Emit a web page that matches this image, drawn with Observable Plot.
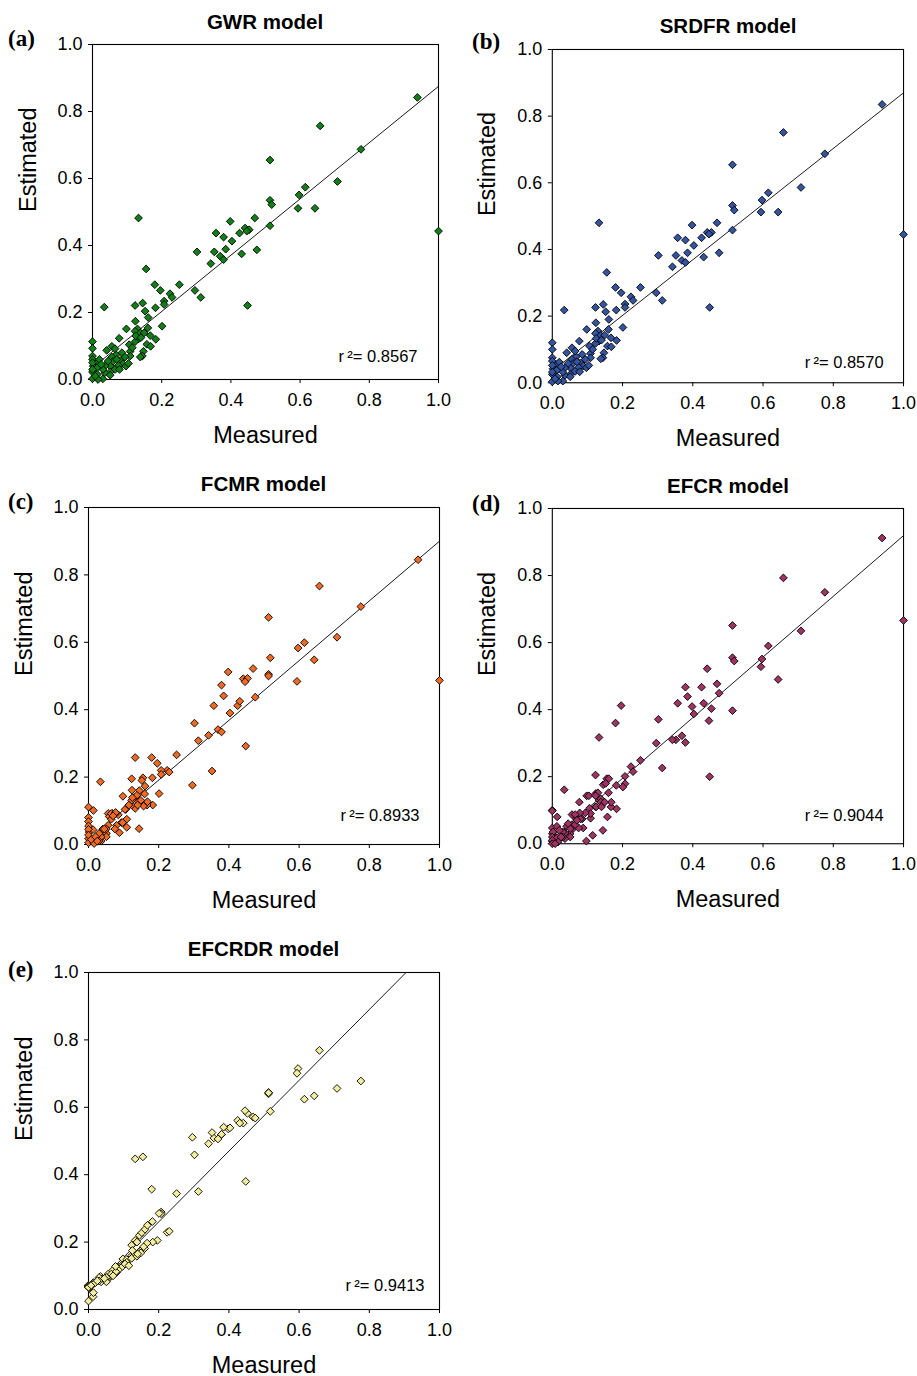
<!DOCTYPE html>
<html><head><meta charset="utf-8">
<script src="https://cdn.jsdelivr.net/npm/d3@7"></script>
<script src="https://cdn.jsdelivr.net/npm/@observablehq/plot@0.6"></script>
<style>
body{margin:0;background:#fff;}
#fig{position:relative;width:917px;height:1376px;overflow:hidden;background:#fff;font-family:"Liberation Sans",Arial,sans-serif;}
.title{position:absolute;font-weight:bold;font-size:20.5px;line-height:20.5px;white-space:nowrap;transform:translateX(-50%);color:#000;}
.plabel{position:absolute;font-family:"Liberation Serif","Times New Roman",serif;font-weight:bold;font-size:23px;line-height:23px;color:#000;white-space:nowrap;}
.panel{position:absolute;}
</style></head><body><div id="fig"></div><script>
// ---- data ----
const models = ["GWR model", "SRDFR model", "FCMR model", "EFCR model", "EFCRDR model"];
const panelLetters = ["(a)", "(b)", "(c)", "(d)", "(e)"];
const rSquared = ["0.8567", "0.8570", "0.8933", "0.9044", "0.9413"];
const fitSlope = [0.84, 0.835, 0.886, 0.905, 1.05];
const fitIntercept = [0.035, 0.035, 0.014, 0.014, 0.05];
const axisTicks = [0, 0.2, 0.4, 0.6, 0.8, 1.0];
const xLabel = "Measured";
const yLabel = "Estimated";

const measured = [
0.939,0.658,0.776,0.513,0.708,0.615,0.597,0.513,0.518,0.594,
0.643,0.133,0.469,0.398,1.000,0.357,0.425,0.441,0.453,0.446,
0.379,0.403,0.513,0.385,0.475,0.302,0.352,0.369,0.379,0.431,
0.342,0.155,0.180,0.251,0.196,0.296,0.224,0.230,0.313,0.207,
0.207,0.448,0.034,0.123,0.145,0.182,0.152,0.161,0.124,0.201,
0.098,0.160,0.183,0.167,0.133,0.123,0.157,0.168,0.106,0.056,
0.000,0.000,0.041,0.147,0.109,0.144,0.109,0.138,0.085,0.068,
0.056,0.094,0.080,0.059,0.088,0.075,0.051,0.065,0.078,0.051,
0.036,0.036,0.030,0.030,0.051,0.014,0.000,0.000,0.002,0.000,
0.000,0.013,0.014,0.016,0.097,0.104,0.065,0.130,0.123,0.138,
0.149,0.077,0.000,0.000,0.008,0.020,0.025,0.045,0.070,0.115,
0.125,0.140];

const estGWR = [
.842,.757,.687,.655,.591,.574,.551,.535,.522,.511,
.511,.482,.482,.472,.443,.437,.437,.452,.447,.443,
.425,.413,.459,.389,.387,.381,.381,.368,.358,.375,
.346,.330,.283,.283,.266,.266,.256,.245,.245,.234,
.224,.221,.216,.221,.228,.214,.204,.185,.174,.159,
.151,.154,.120,.131,.121,.113,.105,.099,.104,.099,
.113,.093,.087,.084,.084,.070,.070,.067,.080,.074,
.067,.067,.057,.054,.047,.042,.040,.030,.030,.022,
.020,.040,.030,.002,.013,.052,.070,.060,.040,.022,
.002,.035,.015,.000,.040,.048,.092,.151,.144,.139,
.139,.123,.050,.030,.010,.060,.045,.055,.060,.095,
.130,.125];

const estSRDFR = [
.835,.751,.687,.654,.586,.570,.548,.532,.518,.512,
.512,.480,.480,.473,.445,.435,.435,.451,.451,.446,
.428,.412,.458,.390,.390,.382,.382,.367,.361,.377,
.348,.331,.286,.286,.270,.270,.258,.247,.247,.236,
.226,.226,.218,.226,.235,.218,.213,.190,.180,.166,
.160,.160,.127,.135,.125,.118,.110,.108,.110,.105,
.120,.100,.090,.090,.088,.075,.075,.072,.085,.078,
.070,.070,.060,.058,.050,.046,.045,.034,.033,.025,
.022,.045,.032,.005,.018,.055,.075,.065,.042,.025,
.003,.038,.018,.005,.045,.052,.095,.155,.148,.142,
.143,.125,.052,.032,.012,.062,.048,.058,.063,.100,
.133,.128];

const estFCMR = [
.845,.767,.706,.674,.615,.599,.583,.505,.554,.484,
.548,.258,.522,.512,.487,.412,.412,.492,.493,.483,
.473,.390,.500,.441,.437,.360,.218,.341,.334,.425,
.324,.198,.258,.266,.241,.176,.220,.215,.308,.220,
.208,.292,.186,.195,.160,.198,.190,.173,.161,.151,
.143,.150,.117,.117,.107,.117,.114,.127,.104,.092,
.111,.080,.046,.127,.075,.047,.051,.131,.088,.092,
.057,.065,.057,.083,.035,.046,.033,.075,.092,.023,
.010,.023,.033,.010,.046,.101,.068,.055,.037,.017,
.005,.044,.008,.003,.065,.104,.092,.139,.131,.146,
.131,.095,.045,.028,.015,.023,.010,.046,.085,.117,
.139,.117];

const estEFCR = [
.912,.793,.750,.651,.635,.590,.551,.555,.545,.528,
.490,.317,.477,.409,.666,.419,.467,.522,.403,.367,
.467,.387,.397,.439,.449,.371,.310,.322,.302,.419,
.310,.194,.360,.249,.412,.300,.230,.215,.226,.201,
.179,.200,.161,.205,.176,.174,.180,.194,.150,.169,
.143,.152,.104,.110,.130,.110,.080,.124,.106,.087,
.100,.098,.052,.124,.076,.040,.090,.134,.074,.074,
.057,.092,.074,.045,.047,.047,.030,.057,.092,.020,
.015,.032,.035,.020,.045,.080,.047,.030,.035,.020,
.007,.052,.018,.005,.008,.143,.087,.152,.143,.124,
.124,.124,.010,.000,.000,.040,.020,.060,.070,.025,
.110,.110];

const estEFCRDR = [
null,.769,.678,.644,.656,.624,.715,.640,.588,.701,
.634,.447,.571,.536,null,.509,.561,.553,.582,.590,
.519,.539,.643,.541,.568,.459,.525,.506,.520,.553,
.492,.453,.357,.344,.205,.511,.229,.232,.350,.289,
.284,.380,.098,.191,.220,.261,.228,.238,.158,.285,
.150,.181,.200,.197,.205,.160,.186,.250,.140,.100,
.070,.068,.090,.174,.148,.170,.140,.200,.125,.115,
.105,.130,.110,.095,.120,.108,.085,.100,.112,.095,
.090,.082,.095,.085,.082,.080,.072,.065,.066,.025,
.070,.038,.050,.078,.128,.135,.105,.160,.152,.158,
.168,.128,.068,.066,.072,.080,.085,.092,.100,.130,
.175,.165];

const estimates = [estGWR, estSRDFR, estFCMR, estEFCR, estEFCRDR];
const fillColors = ["#108016", "#3354a0", "#f26a22", "#9e3364", "#f4ee9c"];

// ---- layout (pixel geometry of each panel frame) ----
const layout = [
  {left: 92,  top: 44,  w: 346, h: 335, r2dx: -21, r2dy: -18, titleTop: 11.6,  labelTop: 27.2},
  {left: 552, top: 49,  w: 352, h: 334, r2dx: -20, r2dy: -15, titleTop: 15.9,  labelTop: 30.2},
  {left: 88,  top: 507, w: 351, h: 337, r2dx: -20, r2dy: -24, titleTop: 474.3, labelTop: 489.7},
  {left: 552, top: 508, w: 352, h: 336, r2dx: -20, r2dy: -23, titleTop: 475.9, labelTop: 492.2},
  {left: 88,  top: 972, w: 351, h: 337, r2dx: -15, r2dy: -19, titleTop: 938.6, labelTop: 958.2}
];
const ML = 90, MT = 6, MR = 14, MB = 72;

const fig = document.getElementById("fig");
const fmt = d3.format(".1f");

models.forEach((name, k) => {
  const L = layout[k];
  const pts = measured.map((m, i) => ({m, e: estimates[k][i]}));
  const slope = fitSlope[k], icpt = fitIntercept[k];
  const chart = Plot.plot({
    width: ML + L.w + MR,
    height: MT + L.h + MB,
    marginLeft: ML, marginTop: MT, marginRight: MR, marginBottom: MB,
    x: {domain: [0, 1]},
    y: {domain: [0, 1]},
    style: {fontFamily: "'Liberation Sans', Arial, sans-serif", fontSize: "18px", color: "#000", background: "transparent", overflow: "visible"},
    marks: [
      Plot.axisX({ticks: axisTicks, tickFormat: fmt, tickSize: 4, tickPadding: 10, label: null, stroke: "#000", fontSize: 18}),
      Plot.axisY({ticks: axisTicks, tickFormat: fmt, tickSize: 4, tickPadding: 6, label: null, stroke: "#000", fontSize: 18}),
      Plot.line([0, 1], {x: d => d, y: d => icpt + slope * d, stroke: "#000", strokeWidth: 0.9, clip: true}),
      Plot.frame({stroke: "#000", strokeWidth: 1.1}),
      Plot.dot(pts, {x: "m", y: "e", symbol: "diamond2", r: 3.5, fill: fillColors[k], stroke: "#000", strokeWidth: 0.9}),
      Plot.text([`r\u2009\u00B2= ${rSquared[k]}`], {text: d => d, frameAnchor: "bottom-right", dx: L.r2dx, dy: L.r2dy, textAnchor: "end", lineAnchor: "bottom", fontSize: 16.5}),
      Plot.text([xLabel], {text: d => d, frameAnchor: "bottom", dy: 63, lineAnchor: "bottom", fontSize: 23.5}),
      Plot.text([yLabel], {text: d => d, frameAnchor: "left", dx: -57, rotate: -90, lineAnchor: "bottom", fontSize: 23.5})
    ]
  });
  const holder = document.createElement("div");
  holder.className = "panel";
  holder.style.left = (L.left - ML) + "px";
  holder.style.top = (L.top - MT) + "px";
  holder.appendChild(chart);
  fig.appendChild(holder);

  const t = document.createElement("div");
  t.className = "title";
  t.textContent = name;
  t.style.left = (L.left + L.w / 2) + "px";
  t.style.top = L.titleTop + "px";
  fig.appendChild(t);

  const pl = document.createElement("div");
  pl.className = "plabel";
  pl.textContent = panelLetters[k];
  pl.style.left = (k % 2 === 0 ? 8 : 472) + "px";
  pl.style.top = L.labelTop + "px";
  fig.appendChild(pl);
});
</script></body></html>
